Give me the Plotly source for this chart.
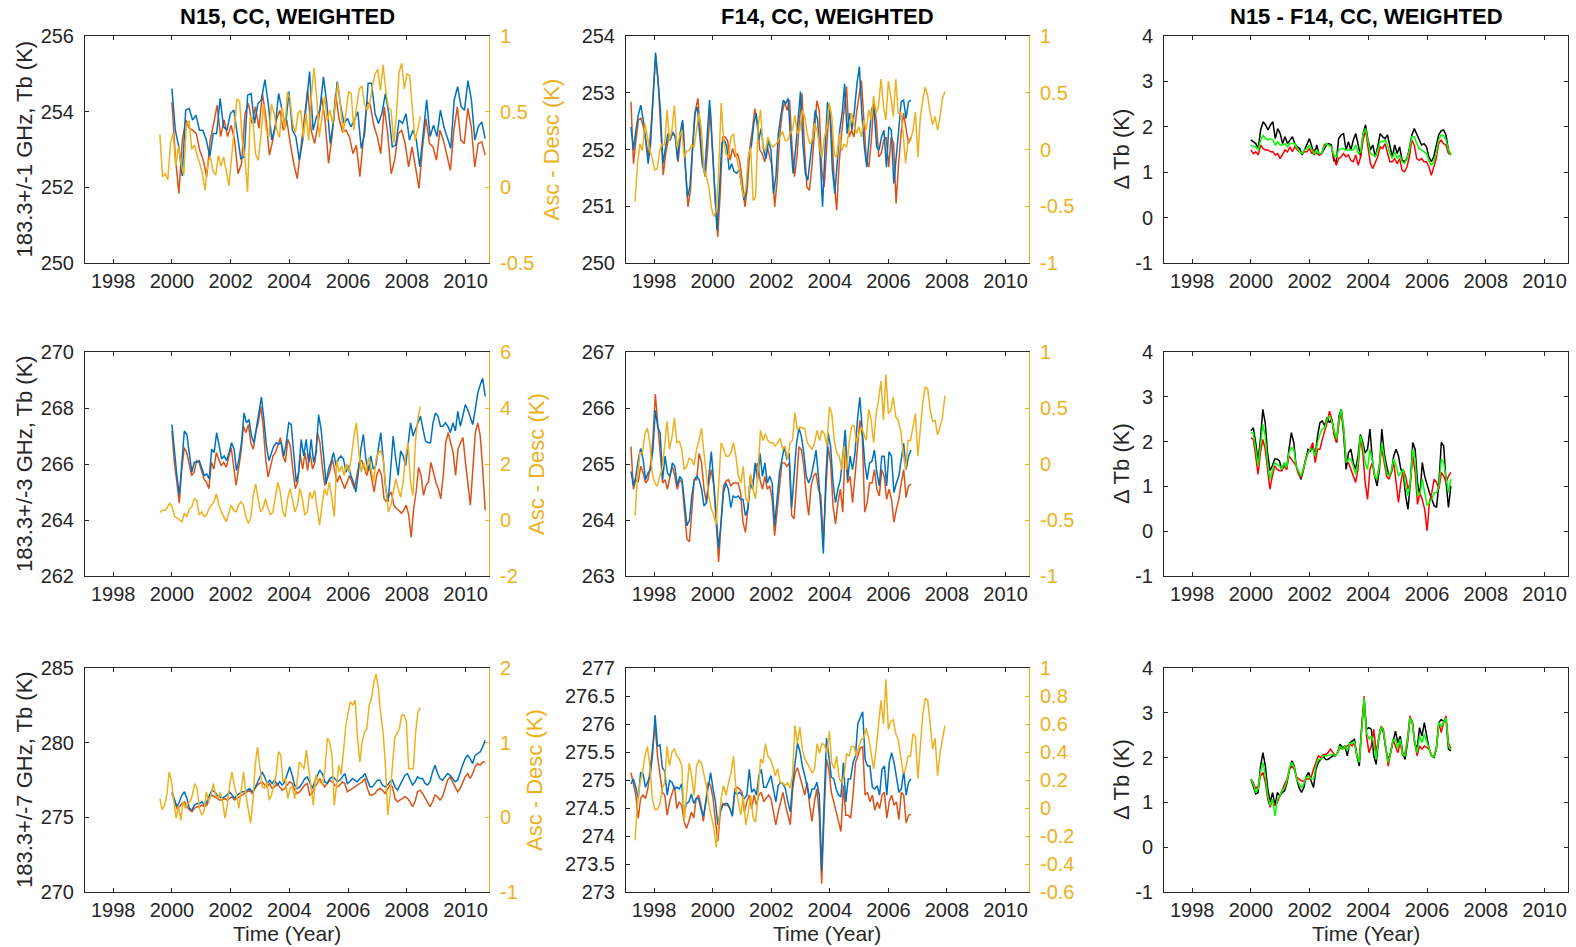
import numpy as np
import plotly.graph_objects as go

W, H = 1576, 947
BLUE = "#0072BD"
RED = "#D95319"
YEL = "#EDB120"
AX = "#262626"
FONT = "Liberation Sans, Arial, Helvetica, sans-serif"

# ---- time spans (decimal years) of each record ----
N15_SPAN = (2000.0, 2010.67)
N15_AD_SPAN = (1999.59, 2008.46)
F14_SPAN = (1997.21, 2006.77)
F14_AD_SPAN = (1997.35, 2007.93)
DIFF_SPAN = (2000.0, 2006.81)

YEAR_TICKS = [1998, 2000, 2002, 2004, 2006, 2008, 2010]
X_RANGE = [1997.04, 2010.8]

# ---- 183.3+/-1 GHz ----
n15_ch1_asc = [254.61, 253.51, 253.07, 252.3, 254.04, 254.09, 253.78, 253.91, 253.51, 253.51,
               253.25, 252.81, 253.42, 253.42, 254.35, 253.60, 253.51, 253.95, 254.04, 253.42,
               252.76, 252.81, 254.44, 254.48, 253.69, 254.22, 254.31, 254.85, 254.22, 253.25,
               253.60, 254.48, 254.00, 253.60, 254.53, 253.51, 253.34, 252.72, 253.25, 254.17,
               255.06, 253.51, 253.86, 254.04, 254.92, 254.22, 253.16, 253.78, 254.79, 254.17,
               253.69, 253.82, 253.60, 253.78, 254.00, 253.03, 253.42, 254.75, 254.75, 253.95,
               253.69, 253.95, 254.48, 253.95, 253.07, 253.11, 253.78, 253.69, 253.95, 253.25,
               253.51, 253.25, 252.54, 253.42, 254.31, 253.34, 253.64, 253.34, 254.04, 253.60,
               253.34, 253.03, 254.31, 254.66, 254.13, 254.04, 254.82, 254.31, 253.25, 253.60,
               253.73, 253.29]
n15_ch1_dsc = [254.26, 252.81, 251.84, 253.25, 253.78, 253.56, 253.51, 253.42, 252.98, 252.72,
               252.28, 253.25, 253.69, 254.17, 253.34, 253.78, 253.34, 253.64, 253.25, 252.36,
               252.63, 253.95, 254.22, 253.69, 254.13, 253.56, 254.48, 253.86, 252.85, 253.25,
               253.78, 254.04, 253.51, 253.78, 253.16, 252.63, 252.23, 253.07, 253.73, 254.57,
               253.51, 253.16, 253.69, 254.39, 253.78, 252.63, 253.34, 254.48, 253.82, 253.47,
               253.51, 253.34, 252.89, 253.11, 252.28, 253.25, 254.26, 254.17, 253.64, 253.34,
               252.89, 254.13, 253.42, 252.36, 252.72, 253.42, 253.51, 253.16, 252.54, 253.07,
               252.54, 251.97, 253.07, 253.82, 253.16, 253.07, 252.72, 253.51, 253.25, 252.81,
               252.45, 253.51, 254.13, 253.25, 253.16, 254.09, 253.60, 252.54, 253.16, 253.20,
               252.85]
n15_ch1_ad = [0.35, 0.07, 0.09, 0.05, 0.29, 0.36, 0.14, 0.27, 0.16, 0.08,
              0.42, 0.44, 0.25, 0.28, 0.21, 0.16, 0.09, -0.02, 0.16, 0.20,
              0.11, 0.08, 0.21, 0.14, 0.20, 0.09, 0.01, 0.20, 0.40, 0.58,
              0.57, 0.31, 0.20, -0.03, 0.47, 0.44, 0.22, 0.18, 0.33, 0.55,
              0.38, 0.33, 0.55, 0.49, 0.38, 0.33, 0.53, 0.38, 0.63, 0.58,
              0.42, 0.36, 0.49, 0.51, 0.33, 0.49, 0.31, 0.60, 0.79, 0.60,
              0.33, 0.47, 0.60, 0.44, 0.51, 0.42, 0.55, 0.69, 0.53, 0.36,
              0.49, 0.63, 0.62, 0.38, 0.53, 0.65, 0.67, 0.55, 0.51, 0.55,
              0.67, 0.75, 0.78, 0.64, 0.81, 0.64, 0.53, 0.51, 0.29, 0.47,
              0.76, 0.82, 0.65, 0.75, 0.74, 0.51, 0.31, 0.38, 0.47]
f14_ch1_asc = [252.40, 251.99, 252.34, 252.61, 252.78, 252.52, 252.16, 251.75, 252.11, 252.93,
               253.71, 253.22, 252.69, 251.75, 252.05, 252.28, 252.16, 252.31, 252.22, 251.81,
               252.28, 252.52, 251.81, 251.16, 251.34, 251.99, 252.64, 252.75, 252.22, 251.75,
               251.58, 252.16, 252.87, 252.11, 251.28, 250.58, 251.28, 252.11, 252.16, 252.05,
               251.64, 251.75, 251.61, 251.58, 251.64, 251.34, 251.11, 251.28, 251.93, 252.05,
               252.46, 252.64, 252.16, 252.37, 251.99, 251.84, 252.16, 251.99, 251.22, 251.52,
               252.28, 252.58, 252.87, 252.81, 252.90, 252.16, 251.58, 251.99, 252.58, 253.02,
               252.11, 251.58, 251.46, 251.81, 252.22, 252.69, 252.52, 251.87, 250.99, 251.99,
               252.84, 252.64, 251.64, 251.22, 251.75, 252.34, 252.64, 253.16, 252.28, 252.64,
               252.34, 252.69, 253.16, 253.46, 252.64, 252.05, 251.69, 252.28, 252.72, 252.69,
               252.05, 251.99, 252.22, 252.34, 251.69, 252.40, 252.34, 251.40, 251.81, 252.34,
               252.84, 252.87, 252.55, 252.84, 252.87]
f14_ch1_dsc = [252.84, 251.75, 252.16, 252.52, 252.55, 252.40, 252.16, 251.87, 252.34, 253.05,
               253.66, 253.16, 252.46, 251.55, 251.93, 252.16, 252.22, 252.28, 252.22, 251.78,
               252.22, 252.46, 251.64, 250.99, 251.28, 252.11, 252.69, 252.90, 252.34, 251.75,
               251.52, 252.05, 252.75, 251.87, 251.16, 250.46, 251.22, 252.22, 252.22, 252.16,
               251.81, 252.02, 251.87, 251.93, 251.75, 251.40, 250.99, 251.34, 252.05, 252.34,
               252.72, 252.46, 251.99, 251.93, 251.78, 252.05, 251.87, 251.69, 250.99, 251.46,
               252.22, 252.64, 252.84, 252.69, 252.87, 252.05, 251.52, 251.87, 252.52, 252.99,
               252.05, 251.34, 251.28, 251.69, 252.28, 252.86, 252.69, 251.64, 251.34, 252.16,
               252.75, 252.34, 251.46, 250.93, 251.75, 252.28, 252.69, 253.11, 252.22, 252.34,
               252.22, 252.64, 252.93, 253.22, 252.52, 251.81, 251.69, 252.16, 252.81, 252.52,
               251.87, 251.93, 252.16, 252.22, 251.69, 252.22, 252.11, 251.05, 251.75, 252.28,
               252.64, 252.40, 252.11, 252.22]
f14_ch1_ad = [-0.46, -0.12, 0.05, -0.01, 0.23, 0.11, -0.01, -0.08, -0.18, -0.17,
              -0.01, 0.05, 0.04, 0.35, 0.08, 0.17, 0.39, 0.02, 0.11, 0.17,
              -0.07, -0.01, -0.01, 0.04, 0.02, 0.17, 0.32, 0.17, -0.18, -0.24,
              -0.33, -0.51, -0.59, -0.54, -0.18, 0.41, 0.08, -0.04, -0.07, 0.11,
              0.14, -0.04, -0.15, -0.27, -0.42, -0.36, -0.07, 0.02, -0.45, -0.42,
              0.20, 0.35, 0.02, -0.01, 0.11, 0.05, 0.02, 0.04, 0.07, 0.11,
              0.16, 0.08, 0.08, 0.14, 0.17, 0.30, 0.14, 0.17, 0.35, 0.29,
              0.14, 0.05, 0.08, 0.23, 0.17, 0.02, -0.07, 0.11, 0.20, 0.41,
              0.29, -0.04, -0.07, 0.14, -0.01, 0.05, 0.02, 0.17, 0.32, 0.23,
              0.14, 0.20, 0.11, 0.26, 0.17, 0.35, 0.26, 0.47, 0.32, 0.38,
              0.62, 0.38, 0.26, 0.60, 0.47, 0.29, 0.62, 0.32, 0.33, 0.14,
              -0.12, 0.08, 0.08, 0.17, 0.33, -0.07, 0.29, 0.44, 0.55, 0.47,
              0.32, 0.22, 0.29, 0.17, 0.29, 0.45, 0.51]
dtb_ch1_k = [1.71, 1.67, 1.63, 1.52, 1.93, 2.11, 2.04, 1.93, 2.04, 2.11,
             1.74, 1.96, 1.85, 1.63, 1.78, 1.63, 1.71, 1.78, 1.63, 1.56,
             1.52, 1.38, 1.49, 1.60, 1.74, 1.56, 1.38, 1.60, 1.38, 1.41,
             1.52, 1.60, 1.63, 1.60, 1.26, 1.23, 1.74, 1.82, 1.85, 1.49,
             1.67, 1.49, 1.71, 1.85, 1.60, 1.34, 1.85, 2.04, 1.71, 1.49,
             1.60, 1.34, 1.56, 1.85, 1.78, 1.74, 1.82, 1.56, 1.34, 1.60,
             1.41, 1.56, 1.26, 1.23, 1.30, 1.52, 1.82, 1.96, 1.85, 1.71,
             1.60, 1.63, 1.56, 1.34, 1.23, 1.34, 1.60, 1.82, 1.91, 1.93,
             1.82, 1.49, 1.38]
dtb_ch1_r = [1.49, 1.41, 1.45, 1.38, 1.60, 1.52, 1.49, 1.49, 1.45, 1.45,
             1.38, 1.41, 1.30, 1.41, 1.49, 1.45, 1.56, 1.45, 1.56, 1.49,
             1.45, 1.41, 1.45, 1.45, 1.52, 1.41, 1.49, 1.41, 1.38, 1.41,
             1.60, 1.63, 1.60, 1.56, 1.34, 1.15, 1.30, 1.34, 1.41, 1.34,
             1.38, 1.26, 1.23, 1.38, 1.15, 1.34, 1.71, 1.93, 1.56, 1.19,
             1.08, 1.23, 1.34, 1.56, 1.52, 1.63, 1.41, 1.23, 1.23, 1.30,
             1.19, 1.30, 1.04, 1.01, 1.12, 1.34, 1.71, 1.60, 1.30, 1.26,
             1.30, 1.23, 1.23, 1.12, 0.93, 1.12, 1.30, 1.63, 1.71, 1.63,
             1.60, 1.41, 1.38]
dtb_ch1_g = [1.60, 1.56, 1.56, 1.49, 1.71, 1.82, 1.74, 1.71, 1.74, 1.71,
             1.60, 1.67, 1.60, 1.60, 1.63, 1.56, 1.63, 1.63, 1.63, 1.52,
             1.45, 1.41, 1.49, 1.52, 1.60, 1.49, 1.41, 1.49, 1.41, 1.41,
             1.56, 1.63, 1.60, 1.56, 1.38, 1.34, 1.49, 1.52, 1.52, 1.49,
             1.49, 1.49, 1.49, 1.60, 1.41, 1.45, 1.85, 1.96, 1.67, 1.41,
             1.38, 1.34, 1.49, 1.67, 1.67, 1.71, 1.60, 1.41, 1.30, 1.45,
             1.30, 1.38, 1.23, 1.19, 1.30, 1.49, 1.78, 1.78, 1.63, 1.52,
             1.49, 1.45, 1.41, 1.26, 1.15, 1.23, 1.41, 1.71, 1.82, 1.80,
             1.71, 1.49, 1.38]

# ---- 183.3+/-3 GHz ----
n15_ch3_asc = [267.41, 266.41, 265.59, 264.9, 266.18, 267.18, 267.06, 266.41, 265.71, 266.06,
               266.06, 266.12, 265.82, 265.59, 265.65, 265.47, 266.53, 266.41, 267.12, 266.65,
               266.18, 266.29, 266.12, 266.41, 266.76, 266.53, 265.76, 266.18, 266.76, 267.82,
               267.47, 267.59, 267.00, 266.76, 267.35, 267.94, 268.39, 267.59, 266.65, 266.12,
               266.41, 266.65, 266.76, 266.71, 266.76, 266.29, 266.76, 267.47, 267.41, 266.29,
               265.35, 265.71, 266.88, 266.29, 266.88, 266.06, 266.88, 266.06, 266.41, 267.76,
               267.24, 266.29, 265.29, 265.82, 266.06, 266.41, 265.94, 266.18, 266.29, 266.18,
               265.71, 265.94, 265.59, 265.35, 265.00, 265.71, 266.53, 267.06, 266.18, 265.76,
               266.29, 265.82, 265.94, 266.53, 267.12, 266.18, 265.12, 264.65, 265.82, 267.00,
               266.18, 265.59, 266.47, 266.29, 265.94, 266.76, 267.47, 267.00, 267.24, 267.47,
               267.71, 267.24, 266.82, 266.76, 266.76, 267.47, 267.82, 267.71, 267.35, 267.35,
               267.47, 267.35, 267.12, 267.47, 267.18, 267.88, 267.35, 267.71, 268.12, 267.94,
               267.71, 267.41, 267.94, 268.53, 268.82, 269.06, 268.41]
n15_ch3_dsc = [267.18, 266.06, 265.35, 264.6, 265.82, 266.59, 266.41, 265.94, 265.59, 265.71,
               266.12, 266.06, 265.71, 265.47, 265.35, 265.12, 266.06, 265.82, 266.41, 266.18,
               265.94, 266.06, 265.88, 266.24, 266.59, 265.94, 265.24, 265.82, 266.41, 267.35,
               267.12, 267.41, 266.76, 266.53, 267.12, 267.47, 268.06, 267.35, 266.18, 265.53,
               265.94, 266.29, 266.41, 266.65, 266.94, 266.29, 266.06, 266.88, 266.65, 265.82,
               265.12, 265.35, 266.35, 265.82, 266.41, 265.76, 266.41, 265.82, 266.06, 267.12,
               266.76, 265.88, 265.24, 265.47, 265.71, 266.18, 265.71, 265.35, 265.59, 265.35,
               265.12, 265.35, 265.59, 265.35, 265.12, 265.59, 266.06, 266.12, 265.82, 265.59,
               265.94, 265.47, 265.00, 265.59, 265.82, 265.59, 264.76, 264.65, 264.88, 265.00,
               264.53, 264.41, 264.35, 264.24, 264.35, 264.53, 264.18, 263.38, 264.41, 265.00,
               265.88, 265.59, 264.88, 265.24, 265.35, 266.06, 265.71, 265.35, 265.12, 264.76,
               265.59, 266.76, 267.12, 266.76, 266.41, 265.59, 266.53, 266.76, 266.94, 266.06,
               265.24, 264.53, 265.82, 267.12, 267.47, 267.00, 265.82, 264.35]
n15_ch3_ad = [0.27, 0.35, 0.35, 0.44, 0.59, 0.47, 0.12, 0.08, 0.00, -0.06,
              0.24, 0.12, 0.41, 0.47, 0.76, 0.71, 0.18, 0.29, 0.12, 0.18,
              0.41, 0.53, 0.65, 0.94, 0.53, 0.29, 0.12, -0.06, 0.24, 0.53,
              0.35, 0.29, 0.53, 0.65, 0.53, 0.12, -0.12, 0.06, 0.88, 1.29,
              0.76, 0.29, 0.41, 0.76, 0.41, 0.18, 0.29, 0.88, 1.35, 1.00,
              0.29, 0.12, 0.76, 1.12, 0.65, 0.29, 0.53, 1.12, 0.76, 0.18,
              0.29, 1.00, 0.76, 1.06, 0.41, -0.18, 0.53, 1.12, 0.88, 1.35,
              0.76, 0.12, 2.12, 1.71, 1.94, 1.59, 2.00, 1.71, 2.29, 3.00,
              3.47, 2.41, 1.71, 2.06, 1.71, 2.24, 1.82, 1.35, 2.18, 2.41,
              2.47, 2.12, 1.12, 0.29, 0.53, 1.06, 1.47, 1.12, 0.82, 1.35,
              2.29, 2.76, 1.35, 0.88, 2.76, 3.59, 4.06]
f14_ch3_asc = [264.87, 264.61, 264.78, 265.08, 265.28, 265.08, 264.72, 264.84, 264.90, 265.25,
               265.96, 265.66, 265.55, 264.72, 265.14, 264.84, 264.78, 265.02, 264.96, 264.61,
               264.78, 264.72, 264.31, 263.90, 263.99, 264.43, 264.72, 264.78, 264.72, 264.55,
               264.25, 264.31, 264.78, 265.22, 264.66, 264.14, 263.49, 263.96, 264.49, 264.66,
               264.55, 264.22, 264.43, 264.40, 264.43, 264.37, 264.37, 264.08, 264.19, 264.66,
               264.55, 265.02, 264.72, 265.19, 264.78, 265.02, 264.66, 264.78, 264.66, 263.90,
               264.31, 264.84, 265.08, 265.31, 265.08, 265.19, 264.22, 264.78, 265.37, 265.64,
               265.49, 265.19, 264.78, 264.66, 264.78, 264.99, 265.25, 264.78, 264.19, 263.40,
               264.72, 265.55, 265.31, 264.66, 264.31, 264.55, 264.72, 265.14, 265.61, 264.72,
               265.14, 264.90, 265.19, 265.78, 266.19, 265.61, 265.02, 264.72, 265.02, 265.05,
               265.25, 264.84, 264.61, 265.14, 265.14, 264.61, 265.22, 265.14, 264.49, 264.66,
               264.78, 265.08, 265.37, 264.90, 265.14, 265.25]
f14_ch3_dsc = [265.31, 264.55, 264.72, 264.69, 264.96, 264.84, 264.66, 264.72, 264.96, 265.43,
               266.25, 265.66, 265.08, 264.66, 264.72, 264.55, 264.78, 264.96, 264.78, 264.55,
               264.72, 264.66, 264.14, 263.66, 263.61, 264.14, 264.72, 264.72, 265.19, 265.02,
               264.55, 264.31, 264.66, 264.90, 264.61, 263.96, 263.25, 263.96, 264.61, 264.69,
               264.72, 264.61, 264.66, 264.66, 264.66, 264.49, 263.96, 263.78, 264.19, 264.78,
               264.66, 264.90, 265.02, 264.72, 264.55, 264.78, 264.55, 264.61, 264.37, 263.72,
               264.19, 264.66, 265.02, 265.02, 264.96, 265.02, 264.08, 264.02, 264.78, 265.31,
               265.25, 264.96, 264.43, 264.08, 264.61, 264.78, 264.84, 264.55, 264.43, 263.61,
               264.49, 265.31, 265.02, 264.25, 263.93, 264.31, 264.55, 264.14, 265.37, 264.66,
               264.78, 264.31, 264.78, 265.31, 265.78, 265.49, 264.14, 264.31, 264.66, 264.66,
               264.90, 264.55, 264.43, 264.90, 264.78, 264.37, 264.55, 264.37, 263.96, 264.19,
               264.37, 264.66, 264.90, 264.40, 264.61, 264.64]
f14_ch3_ad = [-0.46, -0.11, 0.10, 0.10, 0.27, 0.32, 0.19, -0.08, -0.17, -0.20,
              -0.11, -0.05, 0.16, 0.38, 0.13, 0.24, 0.41, 0.19, 0.20, 0.13,
              -0.05, -0.02, 0.05, 0.04, -0.01, 0.13, 0.21, 0.32, 0.10, -0.11,
              -0.29, -0.40, -0.46, -0.54, -0.11, 0.19, 0.13, 0.07, 0.07, 0.10,
              0.19, 0.07, -0.11, -0.17, -0.02, -0.31, -0.34, -0.09, -0.23, -0.31,
              -0.05, 0.30, 0.21, 0.27, 0.21, 0.19, 0.19, 0.16, 0.19, 0.23,
              0.13, 0.16, 0.04, 0.19, 0.21, 0.46, 0.30, 0.33, 0.32, 0.32,
              0.19, 0.16, 0.13, 0.19, 0.30, 0.21, 0.30, 0.27, 0.16, 0.51,
              0.45, 0.21, 0.10, 0.07, -0.05, 0.16, -0.05, 0.19, 0.33, 0.35,
              0.19, 0.27, 0.33, 0.27, 0.21, 0.49, 0.39, 0.19, 0.45, 0.57,
              0.74, 0.39, 0.80, 0.45, 0.48, 0.60, 0.42, 0.39, 0.30, 0.10,
              -0.05, 0.21, 0.21, 0.33, 0.45, 0.07, 0.33, 0.55, 0.69, 0.67,
              0.48, 0.38, 0.39, 0.26, 0.33, 0.42, 0.61]
dtb_ch3_k = [2.24, 2.31, 1.98, 1.57, 2.05, 2.72, 2.42, 1.75, 1.35, 1.46,
             1.61, 1.61, 1.57, 1.35, 1.53, 1.38, 1.83, 2.20, 1.98, 1.46,
             1.31, 1.16, 1.35, 1.61, 1.83, 1.79, 1.90, 1.68, 2.13, 2.42,
             2.46, 2.35, 2.54, 2.42, 2.50, 2.20, 1.98, 2.57, 2.72, 2.13,
             1.38, 1.75, 1.83, 1.53, 1.38, 1.68, 2.16, 1.98, 1.75, 1.83,
             2.28, 1.61, 1.23, 1.01, 1.38, 2.28, 1.75, 1.46, 1.23, 1.31,
             1.68, 1.83, 1.68, 1.38, 1.31, 0.79, 0.49, 1.09, 1.98, 1.83,
             1.09, 0.79, 1.53, 1.23, 1.01, 0.86, 0.71, 0.57, 0.53, 1.09,
             1.98, 1.90, 1.09, 0.53, 1.01]
dtb_ch3_r = [2.09, 2.05, 1.68, 1.27, 1.75, 2.05, 1.83, 1.31, 0.94, 1.23,
             1.46, 1.38, 1.35, 1.35, 1.46, 1.38, 1.68, 1.61, 1.53, 1.46,
             1.27, 1.20, 1.38, 1.61, 1.75, 1.83, 1.98, 1.53, 1.83, 1.83,
             2.05, 2.24, 2.42, 2.68, 2.50, 2.13, 1.98, 2.42, 2.68, 2.28,
             1.57, 1.53, 1.38, 1.23, 1.09, 1.38, 2.09, 1.75, 1.09, 0.71,
             1.38, 1.53, 1.23, 1.16, 1.46, 1.83, 1.53, 1.23, 1.16, 1.31,
             1.53, 1.09, 0.64, 1.09, 1.38, 1.23, 0.94, 1.09, 1.68, 1.31,
             0.60, 0.86, 0.71, 0.49, 0.01, 0.64, 0.86, 1.16, 1.09, 0.94,
             1.31, 1.23, 1.09, 1.23, 1.31]
dtb_ch3_g = [2.20, 2.20, 1.83, 1.46, 1.90, 2.39, 2.13, 1.53, 1.16, 1.38,
             1.53, 1.49, 1.46, 1.38, 1.53, 1.42, 1.75, 1.87, 1.83, 1.46,
             1.35, 1.23, 1.38, 1.57, 1.75, 1.83, 1.83, 1.68, 1.98, 2.16,
             2.28, 2.31, 2.50, 2.57, 2.46, 2.24, 2.05, 2.50, 2.72, 2.28,
             1.53, 1.61, 1.61, 1.46, 1.27, 1.53, 2.13, 1.90, 1.53, 1.38,
             1.83, 1.61, 1.23, 1.16, 1.46, 1.98, 1.68, 1.31, 1.23, 1.35,
             1.61, 1.46, 1.23, 1.31, 1.38, 1.01, 0.79, 1.09, 1.83, 1.61,
             0.79, 0.83, 1.16, 0.86, 0.57, 0.64, 0.71, 0.86, 0.86, 1.01,
             1.61, 1.53, 1.16, 0.86, 1.16]

# ---- 183.3+/-7 GHz ----
n15_ch7_asc = [276.71, 276.27, 275.71, 276.04, 276.49, 276.71, 276.27, 275.60, 275.49, 275.82,
               275.93, 275.93, 276.04, 275.82, 276.04, 276.49, 276.82, 276.71, 276.49, 276.38,
               276.27, 276.38, 276.49, 276.71, 276.49, 276.27, 276.49, 276.60, 276.71, 276.71,
               276.82, 276.93, 276.71, 276.93, 277.27, 277.60, 278.04, 277.71, 277.27, 277.49,
               277.27, 277.49, 277.16, 277.38, 277.16, 277.38, 277.82, 278.38, 277.82, 277.16,
               276.93, 277.04, 277.27, 277.60, 277.71, 277.27, 276.93, 277.38, 277.82, 278.16,
               277.93, 277.38, 277.27, 277.60, 277.71, 277.60, 277.38, 277.49, 277.71, 277.93,
               277.27, 277.38, 277.60, 277.49, 277.38, 277.60, 277.71, 277.93, 277.49, 277.04,
               277.04, 277.27, 277.49, 277.49, 277.16, 277.04, 277.16, 277.38, 277.49, 277.04,
               276.82, 277.16, 277.49, 277.82, 277.93, 277.49, 277.16, 277.38, 277.71, 277.60,
               277.60, 277.27, 277.16, 277.38, 278.04, 278.49, 277.93, 277.60, 277.49, 277.71,
               277.93, 277.82, 277.60, 277.38, 277.49, 278.04, 278.49, 278.93, 279.16, 278.93,
               278.60, 279.16, 279.27, 279.38, 279.71, 280.16]
n15_ch7_dsc = [276.60, 276.04, 275.60, 275.71, 275.93, 276.04, 275.71, 275.49, 275.38, 275.60,
               275.71, 275.71, 275.82, 275.71, 275.82, 276.27, 276.49, 276.38, 276.27, 276.16,
               276.16, 276.27, 276.16, 276.27, 276.38, 276.16, 276.27, 276.38, 276.49, 276.60,
               276.71, 276.82, 276.60, 276.93, 277.16, 277.27, 277.38, 277.16, 277.04, 277.27,
               276.93, 277.04, 277.27, 277.04, 276.82, 276.93, 277.16, 277.38, 277.27, 276.82,
               276.60, 276.71, 276.93, 277.16, 277.27, 276.49, 276.60, 277.04, 277.27, 277.60,
               277.27, 277.04, 277.27, 277.49, 277.38, 277.16, 277.04, 277.16, 277.38, 277.27,
               276.71, 276.82, 276.93, 277.04, 277.16, 277.27, 277.38, 277.60, 276.93, 276.49,
               276.49, 276.60, 276.82, 276.93, 276.82, 276.60, 276.93, 277.16, 277.04, 276.27,
               276.04, 276.16, 276.27, 276.38, 276.27, 276.04, 275.71, 276.04, 276.71, 276.82,
               276.60, 276.27, 276.04, 275.71, 276.04, 276.49, 276.38, 276.16, 276.38, 276.93,
               277.49, 277.71, 277.38, 277.04, 276.71, 276.93, 277.38, 277.71, 277.93, 277.60,
               277.93, 278.38, 278.60, 278.49, 278.71, 278.71]
n15_ch7_ad = [0.25, 0.10, 0.16, 0.30, 0.61, 0.48, 0.21, -0.01, 0.16, -0.04,
              0.21, 0.12, 0.19, 0.21, 0.30, 0.45, 0.39, 0.12, 0.03, 0.08,
              0.34, 0.21, 0.30, 0.45, 0.30, 0.25, 0.34, 0.21, -0.01, 0.16,
              0.43, 0.61, 0.43, 0.30, 0.12, 0.34, 0.61, 0.30, 0.08, -0.08,
              0.21, 0.70, 0.94, 0.65, 0.41, 0.39, 0.48, 0.23, 0.30, 0.43,
              0.57, 0.88, 0.83, 0.48, 0.52, 0.25, 0.39, 0.41, 0.25, 0.48,
              0.74, 0.70, 0.65, 0.90, 0.65, 0.34, 0.16, 0.57, 0.48, 0.48,
              0.43, 0.65, 1.06, 1.01, 0.83, 0.16, 0.48, 0.70, 0.57, 0.88,
              1.23, 1.41, 1.55, 1.50, 1.57, 1.06, 0.74, 1.01, 1.14, 1.19,
              1.50, 1.59, 1.81, 1.92, 1.72, 1.37, 1.14, 0.70, 0.03, 0.30,
              0.65, 1.06, 1.12, 1.19, 1.37, 1.37, 1.28, 0.65, 0.65, 0.65,
              1.14, 1.41, 1.47]
f14_ch7_asc = [274.93, 275.02, 274.87, 274.67, 275.13, 275.11, 274.87, 274.96, 275.08, 275.49,
               276.16, 275.60, 275.63, 275.22, 275.16, 274.73, 274.99, 274.96, 274.84, 274.87,
               274.84, 274.93, 274.43, 274.58, 274.61, 274.75, 274.58, 274.67, 274.67, 274.49,
               274.35, 274.61, 274.90, 275.13, 274.84, 274.61, 274.20, 274.43, 274.55, 274.58,
               274.58, 274.49, 274.35, 274.78, 274.75, 274.78, 274.73, 274.67, 274.73, 275.19,
               274.78, 274.84, 274.73, 275.08, 275.19, 274.87, 274.87, 274.99, 275.08, 274.84,
               274.61, 274.90, 274.96, 274.93, 274.84, 274.61, 274.43, 274.96, 275.31, 275.66,
               275.51, 275.25, 275.08, 274.84, 274.67, 274.84, 274.84, 274.96, 274.73, 273.38,
               274.73, 275.75, 275.43, 275.05, 275.02, 274.84, 274.73, 274.70, 275.31, 274.61,
               275.02, 275.02, 275.31, 275.43, 276.01, 276.13, 276.22, 275.37, 275.25, 275.25,
               274.87, 274.84, 274.90, 274.73, 275.19, 275.25, 274.73, 275.31, 275.49, 275.31,
               275.02, 274.78, 274.84, 275.16, 274.73, 274.96, 275.02]
f14_ch7_dsc = [275.13, 274.90, 274.73, 274.32, 274.67, 274.73, 274.67, 274.84, 275.19, 275.60,
               275.98, 275.43, 275.13, 274.78, 274.73, 274.37, 274.61, 274.78, 274.90, 274.49,
               274.61, 274.55, 274.26, 274.14, 274.26, 274.43, 274.32, 274.67, 274.73, 274.55,
               274.26, 274.61, 274.96, 274.90, 274.67, 274.26, 273.91, 274.43, 274.58, 274.55,
               274.55, 274.49, 274.37, 274.84, 274.87, 274.84, 274.78, 274.43, 274.61, 274.73,
               274.49, 274.73, 274.55, 274.73, 274.78, 274.61, 274.67, 274.73, 274.67, 274.43,
               274.20, 274.43, 274.61, 274.78, 274.55, 274.37, 274.20, 274.84, 275.13, 275.22,
               275.08, 274.90, 274.73, 274.96, 274.55, 274.26, 274.61, 274.84, 274.37, 273.15,
               274.37, 275.37, 275.19, 274.78, 274.61, 274.43, 274.26, 274.08, 274.90, 274.37,
               274.37, 274.32, 274.73, 275.31, 275.43, 275.57, 275.60, 274.73, 274.78, 274.61,
               274.73, 274.46, 274.61, 274.49, 274.73, 274.78, 274.32, 274.61, 274.73, 274.55,
               274.61, 274.29, 274.78, 274.73, 274.23, 274.37, 274.39]
f14_ch7_ad = [-0.23, 0.04, 0.18, 0.25, 0.37, 0.44, 0.30, 0.07, -0.01, -0.01,
              0.02, 0.14, 0.18, 0.44, 0.30, 0.40, 0.42, 0.37, 0.35, 0.30,
              -0.10, 0.09, 0.32, 0.23, 0.09, 0.30, 0.34, 0.32, 0.25, 0.16,
              0.02, -0.05, -0.14, -0.28, -0.10, 0.07, 0.16, 0.09, 0.18, 0.25,
              0.37, 0.14, 0.04, -0.05, 0.09, -0.12, -0.03, 0.09, -0.07, -0.10,
              0.09, 0.35, 0.32, 0.46, 0.37, 0.35, 0.30, 0.23, 0.28, 0.18,
              0.18, 0.16, 0.18, 0.14, 0.23, 0.59, 0.46, 0.58, 0.42, 0.35,
              0.32, 0.28, 0.25, 0.28, 0.46, 0.39, 0.46, 0.45, 0.39, 0.55,
              0.32, 0.28, 0.37, 0.21, 0.18, 0.23, 0.39, 0.37, 0.44, 0.44,
              0.37, 0.44, 0.49, 0.50, 0.57, 0.50, 0.39, 0.28, 0.42, 0.58,
              0.77, 0.60, 0.92, 0.56, 0.62, 0.63, 0.53, 0.49, 0.37, 0.25,
              0.28, 0.37, 0.37, 0.53, 0.51, 0.21, 0.44, 0.67, 0.78, 0.77,
              0.60, 0.42, 0.50, 0.23, 0.39, 0.50, 0.59]
dtb_ch7_k = [1.52, 1.37, 1.19, 1.22, 1.81, 2.11, 1.81, 1.30, 1.00, 1.22,
             0.93, 1.22, 1.15, 1.22, 1.26, 1.44, 1.74, 1.93, 1.81, 1.52,
             1.33, 1.22, 1.33, 1.59, 1.67, 1.48, 1.33, 1.74, 1.89, 1.96,
             2.04, 1.96, 1.96, 2.00, 2.04, 2.04, 2.11, 2.30, 2.22, 2.26,
             2.04, 2.33, 2.37, 2.41, 2.04, 1.81, 2.70, 3.30, 2.63, 2.67,
             2.63, 2.04, 1.85, 2.41, 2.67, 2.56, 2.19, 1.96, 2.11, 2.37,
             2.59, 2.33, 2.48, 2.11, 1.96, 2.33, 2.85, 2.81, 2.33, 2.19,
             2.67, 2.48, 2.78, 2.48, 2.19, 2.04, 2.00, 2.19, 2.78, 2.85,
             2.81, 2.85, 2.19, 2.15]
dtb_ch7_r = [1.52, 1.44, 1.30, 1.37, 1.59, 1.67, 1.44, 1.07, 0.89, 1.07,
             0.93, 1.00, 1.15, 1.30, 1.41, 1.52, 1.74, 1.81, 1.74, 1.56,
             1.52, 1.48, 1.48, 1.52, 1.52, 1.56, 1.74, 1.89, 2.04, 2.00,
             2.07, 2.07, 2.11, 2.19, 2.11, 2.04, 2.11, 2.22, 2.19, 2.22,
             2.26, 2.30, 2.26, 2.33, 2.04, 1.96, 2.78, 3.37, 2.48, 2.11,
             2.26, 2.63, 2.11, 2.41, 2.70, 2.63, 2.26, 1.81, 2.11, 2.41,
             2.26, 2.11, 2.33, 2.04, 2.11, 2.41, 2.93, 2.78, 2.33, 2.04,
             2.26, 2.19, 2.26, 2.22, 2.19, 2.04, 2.04, 2.22, 2.78, 2.56,
             2.78, 2.93, 2.33, 2.19]
dtb_ch7_g = [1.52, 1.41, 1.22, 1.30, 1.70, 1.89, 1.59, 1.15, 0.93, 1.07,
             0.70, 1.07, 1.15, 1.26, 1.33, 1.48, 1.78, 1.89, 1.78, 1.52,
             1.41, 1.33, 1.41, 1.56, 1.59, 1.52, 1.52, 1.81, 1.96, 1.96,
             2.04, 2.04, 2.04, 2.07, 2.07, 2.04, 2.11, 2.26, 2.19, 2.26,
             2.15, 2.32, 2.32, 2.37, 2.04, 1.89, 2.74, 3.33, 2.56, 2.41,
             2.48, 2.33, 1.96, 2.41, 2.69, 2.59, 2.22, 1.89, 2.11, 2.39,
             2.41, 2.22, 2.41, 2.07, 2.04, 2.37, 2.89, 2.79, 2.33, 2.11,
             2.48, 2.33, 2.52, 2.35, 2.19, 2.04, 2.02, 2.20, 2.78, 2.70,
             2.79, 2.89, 2.26, 2.17]

# ---- axis scales ----
n15_left_ticks = [[250, 252, 254, 256], [262, 264, 266, 268, 270], [270, 275, 280, 285]]
n15_right_ticks = [[-0.5, 0, 0.5, 1], [-2, 0, 2, 4, 6], [-1, 0, 1, 2]]
f14_left_ticks = [[250, 251, 252, 253, 254], [263, 264, 265, 266, 267],
                  [273, 273.5, 274, 274.5, 275, 275.5, 276, 276.5, 277]]
f14_right_ticks = [[-1, -0.5, 0, 0.5, 1], [-1, -0.5, 0, 0.5, 1],
                   [-0.6, -0.4, -0.2, 0, 0.2, 0.4, 0.6, 0.8, 1]]
dtb_ticks = [-1, 0, 1, 2, 3, 4]

col_titles = ["N15, CC, WEIGHTED", "F14, CC, WEIGHTED", "N15 - F14, CC, WEIGHTED"]
row_ylabels = ["183.3+/-1 GHz, Tb (K)", "183.3+/-3 GHz, Tb (K)", "183.3+/-7 GHz, Tb (K)"]
right_label = "Asc - Desc (K)"
dtb_label = "\u0394 Tb (K)"
x_label = "Time (Year)"

# ---- panel boxes in page pixels ----
COL_PX = [(85, 489), (626, 1029), (1164, 1568)]
ROW_PX = [(36, 263), (352, 576), (668, 892)]
RIGHT_LABEL_X = [551, 536, 534]
LEFT_LABEL_X = 24
DTB_LABEL_X = 1121
X_LABEL_Y = 933

LW = 1.5


def fmt(v):
    return ("%g" % v)


def xdom(c):
    return [COL_PX[c][0] / W, COL_PX[c][1] / W]


def ydom(r):
    return [1 - ROW_PX[r][1] / H, 1 - ROW_PX[r][0] / H]


def ax_id(k):
    return "" if k == 1 else str(k)


def span_x(span, vals):
    return np.linspace(span[0], span[1], len(vals))


fig = go.Figure()
layout = {}

rows_n15 = [(n15_ch1_asc, n15_ch1_dsc, n15_ch1_ad),
            (n15_ch3_asc, n15_ch3_dsc, n15_ch3_ad),
            (n15_ch7_asc, n15_ch7_dsc, n15_ch7_ad)]
rows_f14 = [(f14_ch1_asc, f14_ch1_dsc, f14_ch1_ad),
            (f14_ch3_asc, f14_ch3_dsc, f14_ch3_ad),
            (f14_ch7_asc, f14_ch7_dsc, f14_ch7_ad)]
rows_dtb = [(dtb_ch1_k, dtb_ch1_r, dtb_ch1_g),
            (dtb_ch3_k, dtb_ch3_r, dtb_ch3_g),
            (dtb_ch7_k, dtb_ch7_r, dtb_ch7_g)]

tick_font = dict(family=FONT, size=20, color=AX)

for r in range(3):
    for c in range(3):
        k = 3 * r + c + 1
        xa, ya = "x" + ax_id(k), "y" + ax_id(k)
        layout["xaxis" + ax_id(k)] = dict(
            domain=xdom(c), range=X_RANGE, anchor=ya, automargin=False,
            tickmode="array", tickvals=YEAR_TICKS, ticktext=[str(t) for t in YEAR_TICKS],
            ticks="inside", ticklen=4, tickwidth=1, tickcolor=AX,
            showline=True, linecolor=AX, linewidth=1, mirror="ticks",
            showgrid=False, zeroline=False, tickfont=tick_font, ticklabelstandoff=0,
        )
        if c < 2:
            spans = (N15_SPAN, N15_AD_SPAN) if c == 0 else (F14_SPAN, F14_AD_SPAN)
            lt = n15_left_ticks[r] if c == 0 else f14_left_ticks[r]
            rt = n15_right_ticks[r] if c == 0 else f14_right_ticks[r]
            asc, dsc, ad = rows_n15[r] if c == 0 else rows_f14[r]
            rk = 9 + 2 * r + c + 1
            ra = "y" + str(rk)
            layout["yaxis" + ax_id(k)] = dict(
                domain=ydom(r), range=[lt[0], lt[-1]], anchor=xa, automargin=False,
                tickmode="array", tickvals=lt, ticktext=[fmt(v) for v in lt],
                ticks="inside", ticklen=4, tickwidth=1, tickcolor=AX,
                showline=True, linecolor=AX, linewidth=1, mirror=False,
                showgrid=False, zeroline=False, tickfont=tick_font, ticklabelstandoff=6,
            )
            layout["yaxis" + str(rk)] = dict(
                overlaying=ya, side="right", anchor=xa, range=[rt[0], rt[-1]],
                automargin=False,
                tickmode="array", tickvals=rt, ticktext=[fmt(v) for v in rt],
                ticks="inside", ticklen=4, tickwidth=1, tickcolor=YEL,
                showline=True, linecolor=YEL, linewidth=1,
                showgrid=False, zeroline=False,
                tickfont=dict(family=FONT, size=20, color=YEL), ticklabelstandoff=6,
            )
            fig.add_trace(go.Scatter(x=span_x(spans[0], dsc), y=dsc, xaxis=xa, yaxis=ya,
                                     mode="lines", line=dict(color=RED, width=LW),
                                     showlegend=False, hoverinfo="skip"))
            fig.add_trace(go.Scatter(x=span_x(spans[0], asc), y=asc, xaxis=xa, yaxis=ya,
                                     mode="lines", line=dict(color=BLUE, width=LW),
                                     showlegend=False, hoverinfo="skip"))
            fig.add_trace(go.Scatter(x=span_x(spans[1], ad), y=ad, xaxis=xa, yaxis=ra,
                                     mode="lines", line=dict(color=YEL, width=LW),
                                     showlegend=False, hoverinfo="skip"))
        else:
            layout["yaxis" + ax_id(k)] = dict(
                domain=ydom(r), range=[dtb_ticks[0], dtb_ticks[-1]], anchor=xa,
                automargin=False,
                tickmode="array", tickvals=dtb_ticks, ticktext=[fmt(v) for v in dtb_ticks],
                ticks="inside", ticklen=4, tickwidth=1, tickcolor=AX,
                showline=True, linecolor=AX, linewidth=1, mirror="ticks",
                showgrid=False, zeroline=False, tickfont=tick_font, ticklabelstandoff=6,
            )
            kk, rr, gg = rows_dtb[r]
            for vals, col in ((kk, "#000000"), (rr, "#FF0000"), (gg, "#00FF00")):
                fig.add_trace(go.Scatter(x=span_x(DIFF_SPAN, vals), y=vals, xaxis=xa, yaxis=ya,
                                         mode="lines", line=dict(color=col, width=LW),
                                         showlegend=False, hoverinfo="skip"))

ann = []
label_font = dict(family=FONT, size=22, color=AX)
for c in range(3):
    cx = (COL_PX[c][0] + COL_PX[c][1]) / 2 / W
    ann.append(dict(text="<b>%s</b>" % col_titles[c], x=cx, y=1 - 17 / H,
                    xref="paper", yref="paper", xanchor="center", yanchor="middle",
                    showarrow=False, font=dict(family=FONT, size=22, color="#000000")))
    ann.append(dict(text=x_label, x=cx, y=1 - X_LABEL_Y / H, xref="paper", yref="paper",
                    xanchor="center", yanchor="middle", showarrow=False,
                    font=dict(family=FONT, size=21, color=AX)))
for r in range(3):
    cy = 1 - (ROW_PX[r][0] + ROW_PX[r][1]) / 2 / H
    ann.append(dict(text=row_ylabels[r], x=LEFT_LABEL_X / W, y=cy, textangle=-90,
                    xref="paper", yref="paper", xanchor="center", yanchor="middle",
                    showarrow=False, font=label_font))
    ann.append(dict(text=right_label, x=RIGHT_LABEL_X[r] / W, y=cy, textangle=-90,
                    xref="paper", yref="paper", xanchor="center", yanchor="middle",
                    showarrow=False, font=dict(family=FONT, size=22, color=YEL)))
    ann.append(dict(text=dtb_label, x=DTB_LABEL_X / W, y=cy, textangle=-90,
                    xref="paper", yref="paper", xanchor="center", yanchor="middle",
                    showarrow=False, font=label_font))

fig.update_layout(
    width=W, height=H, autosize=False,
    margin=dict(l=0, r=0, t=0, b=0, pad=0, autoexpand=False),
    paper_bgcolor="white", plot_bgcolor="white",
    font=dict(family=FONT, color=AX),
    annotations=ann, showlegend=False,
    **layout,
)

fig.write_html("out.html")
